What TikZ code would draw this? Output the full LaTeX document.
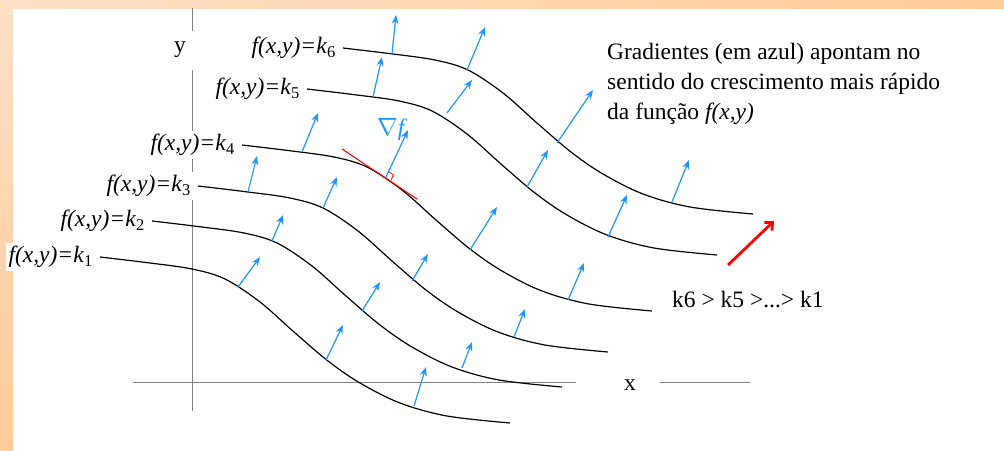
\documentclass[tikz,border=0pt]{standalone}
\usepackage{fontspec}
\setmainfont{Liberation Serif}
\usetikzlibrary{arrows.meta, calc}

\definecolor{gradblue}{HTML}{1E96FF}
\definecolor{framepeach}{HTML}{FFCB99}
\definecolor{framelight}{HTML}{FFE0C6}
\newcommand{\picfont}{\fontsize{23.5}{30}\selectfont}

\begin{document}
\begin{tikzpicture}[
        x=1pt, y=-1pt,
        font=\picfont,
        level/.style={
            draw=black,
            line width=1.2pt
        },
        axis/.style={
            draw=gray,
            line width=1pt
        },
        grad/.style={
            -{Stealth[length=9pt, width=7pt]},
            draw=gradblue,
            line width=1.2pt
        },
        lbl/.style={
            anchor=east,
            fill=white,
            inner sep=3pt
        },
        redmark/.style={
            draw=red,
            line width=1pt
        }
    ]

    % moldura
    \useasboundingbox (0,0) rectangle (1004,450);
    \fill[white] (0,0) rectangle (1004,450);
    \shade[left color=framelight, right color=framepeach] (0,0) rectangle (1004,8);
    \shade[top color=framelight, bottom color=framepeach] (0,0) rectangle (13,450);

    % eixos
    \draw[axis] (192,8) -- (192,31);
    \draw[axis] (192,70) -- (192,411);
    \draw[axis] (133,382) -- (576,382);
    \draw[axis] (660,382) -- (750,382);
    \node (ylab) at (180,50) {y};
    \node (xlab) at (630,385) {x};

    % curvas de nivel
    \foreach \i/\sx/\sy in {1/100/257, 2/152/221, 3/198/186, 4/242/145, 5/307/89, 6/343/48} {
        \draw[level, shift={(\sx,\sy)}] plot[smooth, tension=0.55] coordinates {
            (0,0) (50,6) (92,12) (125,22) (160,45) (194,75) (228,104)
            (260,126) (300,146) (347,159) (410,166)};
        \node[lbl] (k\i) at (\sx-4,\sy) {\textit{f(x,y)=k}\textsubscript{\i}};
    }

    % gradientes
    \foreach \sx/\sy/\ex/\ey in {
        238/287/260/257, 326/360/343/325, 414/406/426/367,
        272/241/283/215, 362/311/380/282, 462/368/472/342,
        248/192/257/156, 323/208/337/177, 412/281/428/254, 514/337/525/309,
        302/152/318/113, 386/177/408/130, 470/250/497/207, 568/300/584/263,
        373/97/382/57, 447/113/472/80, 527/187/548/150, 608/237/627/195,
        392/54/396/15, 467/70/485/27, 557/143/593/90, 672/202/689/160}
        \draw[grad] (\sx,\sy) -- (\ex,\ey);

    % tangente e angulo reto
    \coordinate (tp) at (386,177);
    \draw[redmark] (342,149) -- (417,199);
    \draw[redmark, line width=0.8pt] (391,180.3) -- (393.5,174.9) -- (388.5,171.6);
    \node[text=gradblue] (nabla) at (392,129) {$\nabla$\textit{f}};

    % textos
    \node[anchor=north west, align=left, inner sep=0pt] (note) at (607,43)
        {Gradientes (em azul) apontam no\\
         sentido do crescimento mais rápido\\
         da função \textit{f(x,y)}};
    \node[anchor=west, inner sep=0pt] (order) at (672,300) {k6 > k5 >...> k1};

    % seta vermelha
    \draw[red, line width=2.8pt, -{Straight Barb[length=6pt, width=11pt]}] (728,265) -- (774,221);

    \end{tikzpicture}
\end{document}
